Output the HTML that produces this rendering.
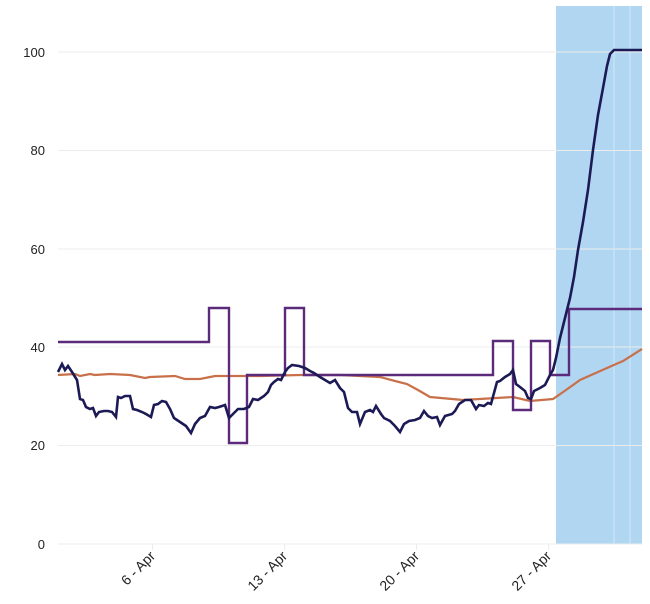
<!DOCTYPE html>
<html><head><style>body{margin:0;background:#fff}svg{display:block;font-family:"Liberation Sans",sans-serif}</style></head><body>
<svg width="650" height="604" viewBox="0 0 650 604">
<rect x="556" y="6" width="86" height="538" fill="#b0d6f2"/>
<g stroke="#ececec" stroke-width="1">
<line x1="58" y1="52" x2="642" y2="52"/><line x1="58" y1="150.5" x2="642" y2="150.5"/><line x1="58" y1="249" x2="642" y2="249"/><line x1="58" y1="347" x2="642" y2="347"/><line x1="58" y1="445.5" x2="642" y2="445.5"/><line x1="58" y1="544" x2="642" y2="544"/>
<line x1="152.5" y1="544" x2="152.5" y2="550"/><line x1="284.5" y1="544" x2="284.5" y2="550"/><line x1="416.5" y1="544" x2="416.5" y2="550"/><line x1="548.5" y1="544" x2="548.5" y2="550"/>
</g>
<g stroke="#d5e8f8" stroke-width="1"><line x1="614" y1="6" x2="614" y2="544"/><line x1="630" y1="6" x2="630" y2="544"/></g>
<g font-size="13" fill="#222" text-anchor="end">
<text x="45" y="57">100</text><text x="45" y="155">80</text><text x="45" y="254">60</text><text x="45" y="352">40</text><text x="45" y="450">20</text><text x="45" y="549">0</text>
</g>
<g font-size="14" fill="#222" text-anchor="end">
<text transform="translate(156,557) rotate(-45)">6 - Apr</text>
<text transform="translate(288,557) rotate(-45)">13 - Apr</text>
<text transform="translate(420,557) rotate(-45)">20 - Apr</text>
<text transform="translate(552,557) rotate(-45)">27 - Apr</text>
</g>
<polyline fill="none" stroke="#c8704a" stroke-width="2.2" points="58,375 75,374 80,376 90,374 95,375 110,374 130,375 145,378 150,377 175,376 185,379 200,379 215,376 230,376 260,376 300,375 340,375 380,377 395,381 407,384 418,390 430,397 463,400 513,397 530,401 553,399 566,390 580,380 607,368 623,361 642,349"/>
<polyline fill="none" stroke="#5b2a7a" stroke-width="2.4" points="58,342 209,342 209,308 229,308 229,443 247,443 247,375 285,375 285,308 304,308 304,375 493,375 493,341 513,341 513,410 531,410 531,341 550,341 550,375 569,375 569,309 642,309"/>
<polyline fill="none" stroke="#1c1a55" stroke-width="2.6" points="58,372 62,364 65,370 68,366 72,372 77,380 80,399 83,400 86,407 90,409 93,408 96,416 99,412 104,411 108,411 112,412 116,417 118,397 121,398 125,396 130,396 133,409 137,410 142,412 146,414 151,417 154,405 158,404 162,401 166,402 170,409 174,418 180,422 186,426 191,433 195,424 200,418 205,416 210,407 215,408 219,407 225,405 229,418 233,414 238,409 244,409 249,407 253,399 258,400 264,396 268,392 271,385 274,382 278,379 281,380 285,372 288,368 292,365 299,366 305,368 310,371 314,373 320,377 325,380 330,383 335,380 340,388 344,392 348,408 352,412 357,412 360,424 365,412 370,410 373,412 376,406 381,414 384,418 390,421 395,426 400,432 404,424 409,421 415,420 420,418 424,411 428,416 432,418 437,417 440,425 445,416 452,414 455,411 459,404 465,400 471,400 476,409 479,405 484,406 488,403 491,404 494,393 497,382 500,381 505,377 510,374 513,370 516,384 520,387 525,391 528,398 531,399 534,391 540,388 545,385 550,375 553,370 556,358 560,338 565,318 570,298 574,277 578,250 583,222 588,190 593,150 598,115 603,88 607,66 610,54 614,50 642,50"/>
</svg>
</body></html>
